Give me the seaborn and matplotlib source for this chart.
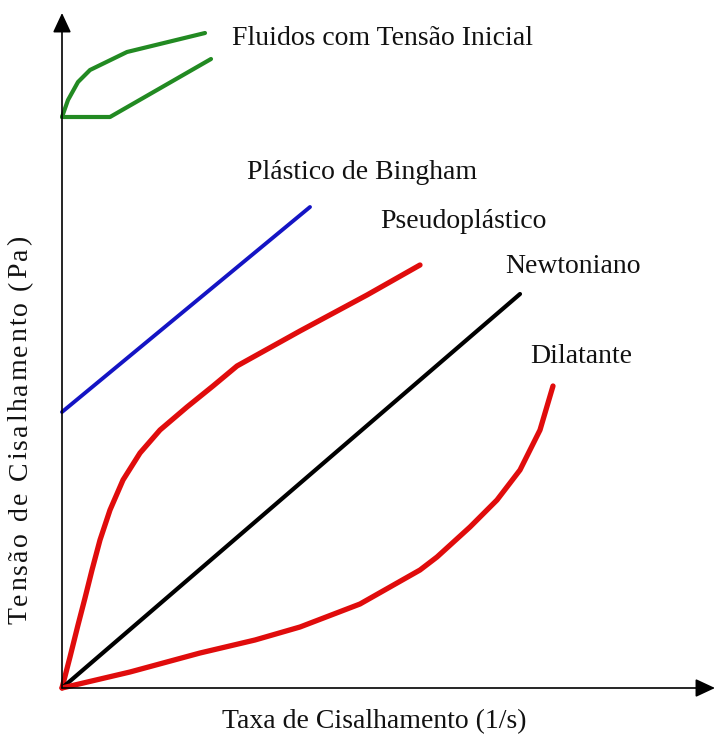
import matplotlib
matplotlib.use("Agg")
import matplotlib.pyplot as plt
import seaborn as sns

sns.set_theme(style="white")
plt.rcParams['font.family'] = ['Liberation Serif', 'DejaVu Serif']

# Data (shear rate, shear stress) in arbitrary units
pseudo_x = [0, 8, 16, 23, 30, 38, 48, 61, 78, 98, 125, 151, 175, 238, 305, 358]
pseudo_y = [0, 31, 63, 90, 118, 148, 178, 208, 235, 258, 281, 302, 322, 357, 393, 423]
dil_x = [0, 68, 138, 193, 238, 298, 358, 375, 408, 435, 458, 478, 491]
dil_y = [0, 16, 35, 48, 61, 84, 118, 131, 161, 188, 218, 258, 302]
newt_x = [0, 458]
newt_y = [0, 394]
bing_x = [0, 248]
bing_y = [276, 481]
yield_up_x = [0, 6, 16, 28, 65, 143]
yield_up_y = [571, 588, 606, 618, 636, 655]
yield_lo_x = [0, 48, 149]
yield_lo_y = [571, 571, 629]

labels = ["Fluidos com Tensão Inicial", "Plástico de Bingham", "Pseudoplástico",
          "Newtoniano", "Dilatante"]
label_x = [170, 185, 318, 443, 468]
label_y = [643, 509, 460, 415, 325]
ylabel_text = "Tensão de Cisalhamento (Pa)"
xlabel_text = "Taxa de Cisalhamento (1/s)"

W, H = 715, 738
fig = plt.figure(figsize=(W / 100, H / 100), dpi=100)
ax = fig.add_axes([62 / W, 50 / H, 653 / W, 675 / H])
ax.set_xlim(0, 653)
ax.set_ylim(0, 675)

red = '#e00c0c'
green = '#228a22'
blue = '#1414c4'
kw = dict(sort=False, estimator=None, legend=False, ax=ax)
sns.lineplot(x=yield_up_x, y=yield_up_y, color=green, lw=3.0, **kw)
sns.lineplot(x=yield_lo_x, y=yield_lo_y, color=green, lw=3.0, **kw)
sns.lineplot(x=bing_x, y=bing_y, color=blue, lw=2.8, **kw)
sns.lineplot(x=pseudo_x, y=pseudo_y, color=red, lw=3.8, **kw)
sns.lineplot(x=newt_x, y=newt_y, color='black', lw=3.0, **kw)
sns.lineplot(x=dil_x, y=dil_y, color=red, lw=3.8, **kw)
for ln in ax.lines:
    ln.set_solid_joinstyle('round')
    ln.set_solid_capstyle('round')
    ln.set_clip_on(False)

for s in ax.spines.values():
    s.set_visible(False)
ax.set_xticks([])
ax.set_yticks([])
ax.patch.set_alpha(0)

arrow_style = '-|>,head_length=0.6,head_width=0.28'
ax.annotate('', xy=(0, 1), xytext=(0, 0), xycoords='axes fraction',
            arrowprops=dict(arrowstyle=arrow_style, mutation_scale=20, color='black',
                            lw=1.2, shrinkA=0, shrinkB=0), annotation_clip=False)
ax.annotate('', xy=(1, 0), xytext=(0, 0), xycoords='axes fraction',
            arrowprops=dict(arrowstyle=arrow_style, mutation_scale=20, color='black',
                            lw=1.2, shrinkA=0, shrinkB=0), annotation_clip=False)

for t, x, y in zip(labels, label_x, label_y):
    ax.text(x, y, t, fontsize=20, color='#111111', ha='left', va='baseline')

# y label: letters spread out a little more, as in the reference
ylab = fig.text(20 / W, 1 - 430 / H, ylabel_text, rotation=90,
                ha='center', va='center', fontsize=20, color='#111111')
fig.canvas.draw()
renderer = fig.canvas.get_renderer()
target_len = 386.0
cur_len = ylab.get_window_extent(renderer).height
if cur_len < target_len:
    ylab.remove()
    # place each character individually with extra spacing
    extra = (target_len - cur_len) / (len(ylabel_text) - 1)
    widths = []
    for ch in ylabel_text:
        tt = fig.text(0, 0, ch, fontsize=20)
        if ch == ' ':
            tt.set_text('a a')
            w_sp = tt.get_window_extent(renderer).width
            tt.set_text('aa')
            w_sp -= tt.get_window_extent(renderer).width
            widths.append(w_sp)
        else:
            widths.append(tt.get_window_extent(renderer).width)
        tt.remove()
    total = sum(widths) + extra * (len(ylabel_text) - 1)
    pos = 430 + total / 2.0  # start (bottom) in pixels from top
    for ch, w in zip(ylabel_text, widths):
        if ch != ' ':
            fig.text(20 / W, 1 - (pos - w / 2.0) / H, ch, rotation=90,
                     ha='center', va='center', fontsize=20, color='#111111',
                     rotation_mode='anchor')
        pos -= w + extra

fig.text(374 / W, 1 - 722 / H, xlabel_text,
         ha='center', va='center', fontsize=20, color='#111111')

fig.savefig("out.png", dpi=100, facecolor='white')
